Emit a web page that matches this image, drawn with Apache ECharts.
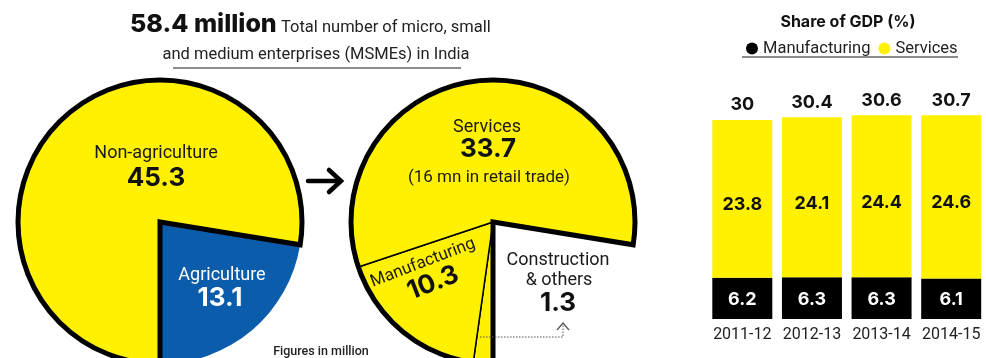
<!DOCTYPE html>
<html>
<head>
<meta charset="utf-8">
<script src="https://cdn.jsdelivr.net/npm/echarts@6/dist/echarts.min.js"></script>
<style>
  html, body { margin: 0; padding: 0; background: #fff; }
  #chart { width: 986px; height: 358px; }
</style>
</head>
<body>
<div id="chart"></div>
<script>
// MSMEs in India, figures in million
const msmeTotal = 58.4;
const sectorNames = ['Non-agriculture', 'Agriculture'];
const sectorValues = [45.3, 13.1];
const nonAgriNames = ['Construction\n& others', 'Manufacturing', 'Services'];
const nonAgriValues = [1.3, 10.3, 33.7];
const retailTradeMn = 16;

// Share of GDP (%)
const years = ['2011-12', '2012-13', '2013-14', '2014-15'];
const manufacturingShare = [6.2, 6.3, 6.3, 6.1];
const servicesShare = [23.8, 24.1, 24.4, 24.6];
const totalShare = [30, 30.4, 30.6, 30.7];

const YELLOW = '#FFF100';
const BLUE = '#0B5CAB';
const INK = '#111';
const CLEAR = 'rgba(0,0,0,0)';
const SANS = 'Roboto';
const NUM = 'Inter';

const pieBase = {
  type: 'pie', radius: 142, startAngle: 270, clockwise: true,
  silent: true, animation: false,
  label: { show: false }, labelLine: { show: false },
  emphasis: { disabled: true }
};

// text element drawn above the series
function txt(x, y, text, font, fill, extra, align) {
  return Object.assign({
    type: 'text', x: x, y: y, z: 50, silent: true,
    style: { text: text, font: font, fill: fill || INK, align: align || 'center', verticalAlign: 'middle' }
  }, extra || {});
}

const deg = Math.PI / 180;
const [constrName, manufName, servName] = nonAgriNames;
const [constrVal, manufVal, servVal] = nonAgriValues;

const chart = echarts.init(document.getElementById('chart'), null, { renderer: 'canvas' });

chart.setOption({
  backgroundColor: '#fff',
  animation: false,
  grid: { left: 707.5, right: -5.5, top: 80.2, bottom: 39 },
  legend: {
    data: ['Manufacturing', 'Services'],
    left: 741, top: 35,
    icon: 'circle', itemWidth: 12, itemHeight: 12, itemGap: 8,
    selectedMode: false,
    textStyle: { fontFamily: SANS, fontSize: 16.5, color: '#222' }
  },
  xAxis: {
    type: 'category', data: years,
    axisLine: { show: false }, axisTick: { show: false },
    axisLabel: { interval: 0, fontFamily: SANS, fontSize: 16, color: '#222', margin: 8 }
  },
  yAxis: { type: 'value', min: 0, max: 36, show: false },
  series: [
    // first pie: all MSMEs
    Object.assign({}, pieBase, {
      center: [160, 222],
      data: [
        { name: sectorNames[0], value: sectorValues[0], itemStyle: { color: CLEAR } },
        { name: sectorNames[1], value: sectorValues[1], itemStyle: { color: BLUE } }
      ]
    }),
    Object.assign({}, pieBase, {
      center: [160, 222],
      data: [
        { name: sectorNames[0], value: sectorValues[0],
          itemStyle: { color: YELLOW, borderColor: '#000', borderWidth: 5, borderJoin: 'miter' } },
        { name: sectorNames[1], value: sectorValues[1], itemStyle: { color: CLEAR, borderWidth: 0 } }
      ]
    }),
    // second pie: non-agriculture split
    Object.assign({}, pieBase, {
      center: [493, 222],
      data: nonAgriNames.map((n, i) => ({
        name: n, value: nonAgriValues[i],
        itemStyle: { color: YELLOW, borderColor: '#000', borderWidth: 1.5 }
      })).concat([{ name: sectorNames[1], value: sectorValues[1], itemStyle: { color: CLEAR, borderWidth: 0 } }])
    }),
    Object.assign({}, pieBase, {
      center: [493, 222],
      data: [
        { name: sectorNames[0], value: sectorValues[0],
          itemStyle: { color: CLEAR, borderColor: '#000', borderWidth: 5, borderJoin: 'miter' } },
        { name: sectorNames[1], value: sectorValues[1], itemStyle: { color: CLEAR, borderWidth: 0 } }
      ]
    }),
    // stacked GDP shares
    {
      name: 'Manufacturing', type: 'bar', stack: 'gdp', barWidth: 60,
      data: manufacturingShare,
      itemStyle: { color: '#000' },
      silent: true,
      label: {
        show: true, position: 'inside', offset: [0, 1],
        color: '#fff', fontFamily: NUM, fontWeight: 'bold', fontSize: 18,
        formatter: p => p.value.toFixed(1)
      }
    },
    {
      name: 'Services', type: 'bar', stack: 'gdp', barWidth: 60,
      data: servicesShare,
      itemStyle: { color: YELLOW },
      silent: true,
      label: {
        show: true, position: 'inside', offset: [0, 6],
        color: INK, fontFamily: NUM, fontWeight: 'bold', fontSize: 18,
        formatter: p => p.value.toFixed(1)
      }
    },
    {
      name: 'Total', type: 'scatter', data: totalShare,
      symbolSize: 0, silent: true,
      itemStyle: { opacity: 1, color: INK },
      label: {
        show: true, position: 'top', distance: 6, opacity: 1,
        color: INK, fontFamily: NUM, fontWeight: 'bold', fontSize: 18,
        formatter: p => String(p.value)
      }
    }
  ],
  graphic: [
    // headline
    txt(130, 24, msmeTotal + ' million', '800 25px ' + NUM, INK, null, 'left'),
    txt(281, 28, 'Total number of micro, small', '16.5px ' + SANS, '#222', null, 'left'),
    txt(316, 55, 'and medium enterprises (MSMEs) in India', '16.5px ' + SANS, '#222'),
    { type: 'line', z: 50, silent: true, shape: { x1: 173, y1: 68, x2: 461, y2: 68 }, style: { stroke: '#666', lineWidth: 1.5 } },

    // first pie labels
    txt(156, 153, sectorNames[0], '18px ' + SANS, '#1a1a1a'),
    txt(156, 178, sectorValues[0].toFixed(1), 'bold 26px ' + NUM, INK),
    txt(222, 275, sectorNames[1], '18px ' + SANS, '#fff'),
    txt(220, 298, sectorValues[1].toFixed(1), 'bold 26px ' + NUM, '#fff'),

    // arrow between pies
    { type: 'polyline', z: 50, silent: true, shape: { points: [[308, 181], [340, 181]] },
      style: { stroke: '#000', lineWidth: 4.5, lineCap: 'round' } },
    { type: 'polyline', z: 50, silent: true, shape: { points: [[329, 170], [341, 181], [329, 192]] },
      style: { stroke: '#000', lineWidth: 4.5, lineCap: 'round', lineJoin: 'miter', fill: null } },

    // second pie labels
    txt(487, 127, servName, '18px ' + SANS, '#1a1a1a'),
    txt(488, 149, servVal.toFixed(1), 'bold 26px ' + NUM, INK),
    txt(489, 178, '(' + retailTradeMn + ' mn in retail trade)', '17px ' + SANS, '#1a1a1a'),
    txt(423, 263, manufName, '17px ' + SANS, '#1a1a1a', { rotation: 21 * deg }),
    txt(433, 283, manufVal.toFixed(1), 'bold 26px ' + NUM, INK, { rotation: 21 * deg }),
    txt(558, 260, constrName.split('\n')[0], '18px ' + SANS, '#1a1a1a'),
    txt(559, 280, constrName.split('\n')[1], '18px ' + SANS, '#1a1a1a'),
    txt(558, 303, constrVal.toFixed(1), 'bold 26px ' + NUM, INK),

    // dotted leader to the thin slice
    { type: 'polyline', z: 50, silent: true, shape: { points: [[480, 337], [563, 337], [563, 325]] },
      style: { stroke: '#555', lineWidth: 1, lineDash: [1.5, 1.5], fill: null } },
    { type: 'polyline', z: 50, silent: true, shape: { points: [[557, 330], [563, 323], [569, 330]] },
      style: { stroke: '#555', lineWidth: 1.2, fill: null } },

    txt(321, 352, 'Figures in million', '500 12.5px ' + SANS, '#222'),

    // GDP share heading
    txt(848, 22, 'Share of GDP (%)', 'bold 16px ' + NUM, INK),
    { type: 'line', z: 50, silent: true, shape: { x1: 742, y1: 57, x2: 958, y2: 57 }, style: { stroke: '#666', lineWidth: 1.5 } }
  ]
});
</script>
</body>
</html>
